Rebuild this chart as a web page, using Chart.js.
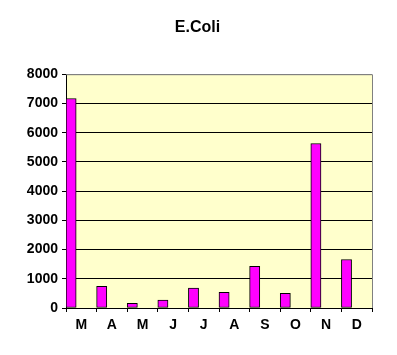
<!DOCTYPE html>
<html lang="en">
<head>
    <meta charset="UTF-8">
    <title>E.Coli</title>
    <style>
        body { margin: 0; background: #ffffff; }
        canvas { display: block; }
    </style>
    <script src="https://cdn.jsdelivr.net/npm/chart.js"></script>
</head>
<body>
    <canvas id="ecoliChart" width="397" height="355"></canvas>

    <script>
        // Monthly counts
        const months = ['M', 'A', 'M', 'J', 'J', 'A', 'S', 'O', 'N', 'D'];
        const counts = [7170, 740, 160, 270, 680, 540, 1430, 500, 5630, 1660];
        // the original sheet had two empty series next to the counts,
        // which is why each bar sits at the left of its slot
        const emptySeries = months.map(() => null);
        const yTicks = [0, 1000, 2000, 3000, 4000, 5000, 6000, 7000, 8000];

        const fontFamily = '"Liberation Sans", Arial, sans-serif';

        // pale yellow plot area with grey top/right frame
        const plotFrame = {
            id: 'plotFrame',
            beforeDraw(chart) {
                const { ctx, chartArea: a } = chart;
                ctx.save();
                ctx.fillStyle = '#ffffcc';
                ctx.fillRect(a.left, a.top, a.right - a.left, a.bottom - a.top);
                ctx.restore();
            },
            afterDraw(chart) {
                const { ctx, chartArea: a } = chart;
                ctx.save();
                ctx.strokeStyle = '#808080';
                ctx.lineWidth = 1;
                ctx.beginPath();
                ctx.moveTo(a.left, a.top + 0.5);
                ctx.lineTo(a.right + 0.5, a.top + 0.5);
                ctx.lineTo(a.right + 0.5, a.bottom);
                ctx.stroke();
                ctx.restore();
            }
        };

        const barStyle = {
            backgroundColor: '#ff00ff',
            borderColor: '#000000',
            borderWidth: 1,
            borderSkipped: false,
            categoryPercentage: 1.0,
            barPercentage: 1.0
        };

        const ctx = document.getElementById('ecoliChart').getContext('2d');
        new Chart(ctx, {
            type: 'bar',
            data: {
                labels: months,
                datasets: [
                    { label: 'E.Coli', data: counts, ...barStyle },
                    { label: '', data: emptySeries, ...barStyle },
                    { label: '', data: emptySeries, ...barStyle }
                ]
            },
            options: {
                responsive: false,
                animation: false,
                layout: { padding: { left: 23, right: 25, top: 0, bottom: 0 } },
                plugins: {
                    legend: { display: false },
                    tooltip: { enabled: false },
                    title: {
                        display: true,
                        text: 'E.Coli',
                        color: '#000000',
                        font: { family: fontFamily, size: 16, weight: 'bold' },
                        padding: { top: 18, bottom: 37 }
                    }
                },
                scales: {
                    x: {
                        offset: true,
                        grid: {
                            offset: true,
                            drawOnChartArea: false,
                            drawTicks: true,
                            tickLength: 4,
                            color: '#000000'
                        },
                        border: { color: '#000000', width: 1 },
                        ticks: {
                            color: '#000000',
                            padding: 5,
                            maxRotation: 0,
                            font: { family: fontFamily, size: 14, weight: 'bold' }
                        },
                        afterFit(scale) { scale.height = 47; }
                    },
                    y: {
                        min: 0,
                        max: 8000,
                        afterBuildTicks(scale) {
                            scale.ticks = yTicks.map(v => ({ value: v }));
                        },
                        grid: {
                            color: c => (c.tick && c.tick.value === 8000) ? '#808080' : '#000000',
                            tickColor: '#000000',
                            tickLength: 4,
                            lineWidth: 1
                        },
                        border: { color: '#000000', width: 1 },
                        ticks: {
                            color: '#000000',
                            padding: 4,
                            callback: v => String(v),
                            font: { family: fontFamily, size: 14, weight: 'bold' }
                        },
                        afterFit(scale) { scale.width = 43; }
                    }
                }
            },
            plugins: [plotFrame]
        });
    </script>
</body>
</html>
